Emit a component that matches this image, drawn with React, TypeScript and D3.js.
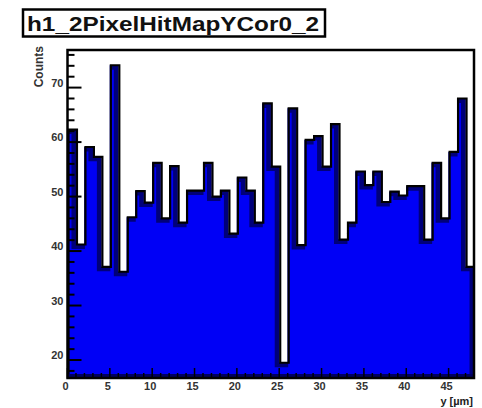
import React from "react";
import * as d3 from "d3";

const TITLE = "h1_2PixelHitMapYCor0_2";
const X_TITLE = "y [µm]";
const Y_TITLE = "Counts";

const X_MIN = 0;
const X_MAX = 48;
const Y_MIN = 16.7;
const Y_MAX = 76.9;

const binCounts = [
  62.3, 41.2, 59.1, 57.3, 37.1, 74.1, 36.2, 46.2, 51.0, 48.9,
  56.2, 46.0, 55.6, 45.2, 51.1, 51.1, 56.2, 50.0, 51.1, 43.2,
  53.5, 51.1, 45.2, 67.1, 55.5, 19.5, 66.2, 41.1, 60.4, 61.1,
  55.5, 63.3, 42.1, 45.2, 54.6, 52.1, 54.6, 49.0, 50.9, 50.2,
  51.9, 51.9, 42.1, 56.2, 46.0, 58.2, 68.0, 37.1,
];

const xMajorTicks = [0, 5, 10, 15, 20, 25, 30, 35, 40, 45];
const yMajorTicks = [20, 30, 40, 50, 60, 70];

const W = 482;
const H = 408;
const FL = 67.5;
const FR = 474;
const FT = 50;
const FB = 378;

export default function App() {
  const x = d3.scaleLinear().domain([X_MIN, X_MAX]).range([FL, FR]);
  const y = d3.scaleLinear().domain([Y_MIN, Y_MAX]).range([FB, FT]);
  const nb = binCounts.length;
  const bw = (X_MAX - X_MIN) / nb;

  const stepPts: [number, number][] = [];
  stepPts.push([x(X_MIN), FB]);
  binCounts.forEach((v, i) => {
    const x0 = x(X_MIN + i * bw);
    const x1 = x(X_MIN + (i + 1) * bw);
    stepPts.push([x0, y(v)]);
    stepPts.push([x1, y(v)]);
  });
  stepPts.push([x(X_MAX), FB]);
  const line = d3.line();
  const outline = line(stepPts) || "";
  const fillPath = outline + "Z";

  const yMinor = d3.range(18, 77, 2).filter((t) => t % 10 !== 0);
  const xMinor = d3.range(0, 48.001, 1).filter((t) => t % 5 !== 0);

  const font = "'Liberation Sans', Arial, Helvetica, sans-serif";

  return (
    <svg
      width={W}
      height={H}
      style={{ position: "absolute", left: 0, top: 0, background: "#ffffff" }}
      fontFamily={font}
    >
      <defs>
        <clipPath id="frameClip">
          <rect x={FL} y={FT} width={FR - FL} height={FB - FT} />
        </clipPath>
        <clipPath id="fillClip">
          <path d={fillPath} />
        </clipPath>
      </defs>
      <rect x={0} y={0} width={W} height={H} fill="#ffffff" />
      <g clipPath="url(#frameClip)">
        <path d={fillPath} fill="#0000f6" />
        <g clipPath="url(#fillClip)">
          <path
            d={outline}
            fill="none"
            stroke="#00007a"
            strokeWidth={5}
            transform="translate(-2,2)"
          />
        </g>
        <path
          d={outline}
          fill="none"
          stroke="#000000"
          strokeWidth={2.2}
          transform="translate(1,0)"
        />
        <line x1={FL} x2={FR} y1={FB - 2} y2={FB - 2} stroke="#000060" strokeWidth={4} />
      </g>
      {/* y ticks */}
      {yMajorTicks.map((t) => (
        <line key={"ym" + t} x1={FL} x2={FL + 14} y1={y(t)} y2={y(t)} stroke="#000" strokeWidth={2} />
      ))}
      {yMinor.map((t) => (
        <line key={"yn" + t} x1={FL} x2={FL + 7} y1={y(t)} y2={y(t)} stroke="#000" strokeWidth={2} />
      ))}
      {/* x ticks */}
      {xMajorTicks.map((t) => (
        <line key={"xm" + t} x1={x(t)} x2={x(t)} y1={FB} y2={FB - 10} stroke="#000" strokeWidth={1.5} />
      ))}
      {xMinor.map((t) => (
        <line key={"xn" + t} x1={x(t)} x2={x(t)} y1={FB} y2={FB - 5} stroke="#000" strokeWidth={1.5} />
      ))}
      {/* frame */}
      <rect x={FL} y={FT} width={FR - FL} height={FB - FT} fill="none" stroke="#000" strokeWidth={2.5} />
      {/* y tick labels */}
      {yMajorTicks.map((t) => (
        <text
          key={"yl" + t}
          x={FL - 4}
          y={y(t) - 1}
          textAnchor="end"
          fontSize={11}
          fontWeight="bold"
          fill="#333"
        >
          {t}
        </text>
      ))}
      {/* x tick labels */}
      {xMajorTicks.map((t) => (
        <text
          key={"xl" + t}
          x={x(t) - 2}
          y={390}
          textAnchor="middle"
          fontSize={11}
          fontWeight="bold"
          fill="#333"
        >
          {t}
        </text>
      ))}
      <text x={473} y={405} textAnchor="end" fontSize={11} fontWeight="bold" fill="#222">
        {X_TITLE}
      </text>
      <text
        transform="translate(43,46) rotate(-90)"
        textAnchor="end"
        fontSize={12}
        fontWeight="bold"
        fill="#333"
      >
        {Y_TITLE}
      </text>
      {/* title box */}
      <rect x={23} y={9.5} width={302} height={27} fill="#ffffff" stroke="#000" strokeWidth={2.5} />
      <text
        x={27}
        y={30.5}
        fontSize={20}
        fontWeight="bold"
        fill="#111"
        textLength={292}
        lengthAdjust="spacingAndGlyphs"
      >
        {TITLE}
      </text>
    </svg>
  );
}
